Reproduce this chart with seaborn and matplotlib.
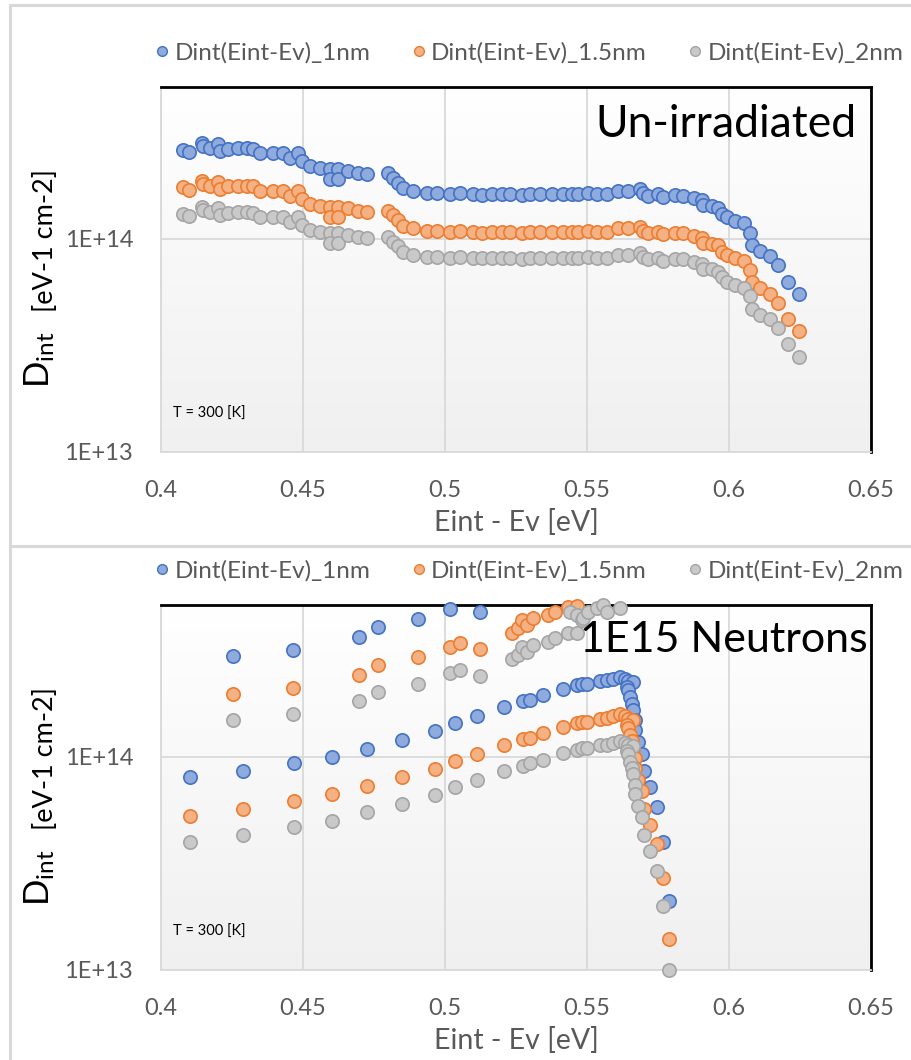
import numpy as np
import pandas as pd
import matplotlib
matplotlib.use("Agg")
import matplotlib.pyplot as plt
import seaborn as sns
from matplotlib.lines import Line2D
from matplotlib.colors import LinearSegmentedColormap

# ---------------- data ----------------
SERIES = ["Dint(Eint-Ev)_1nm", "Dint(Eint-Ev)_1.5nm", "Dint(Eint-Ev)_2nm"]
EDGE = ["#4472C4", "#ED7D31", "#A5A5A5"]
FILL = ["#8FAADC", "#F4B183", "#C9C9C9"]

X_TICKS = [0.4, 0.45, 0.5, 0.55, 0.6, 0.65]
X_TICK_LABELS = ["0.4", "0.45", "0.5", "0.55", "0.6", "0.65"]
Y_TICKS = [1e13, 1e14]
Y_TICK_LABELS = ["1E+13", "1E+14"]

# Top panel (Un-irradiated), values in units of 1E+14 eV-1 cm-2
top_x = [0.4077, 0.4100, 0.4144, 0.4148, 0.4173, 0.4200, 0.4208, 0.4236, 0.4271, 0.4303,
         0.4324, 0.4349, 0.4394, 0.4430, 0.4454, 0.4482, 0.4496, 0.4525, 0.4560, 0.4595,
         0.4623, 0.4595, 0.4623, 0.4658, 0.4694, 0.4725, 0.4799, 0.4817, 0.4835, 0.4852,
         0.4887, 0.4937, 0.4972, 0.5018, 0.5053, 0.5100, 0.5129, 0.5164, 0.5200, 0.5229,
         0.5270, 0.5299, 0.5335, 0.5376, 0.5417, 0.5446, 0.5469, 0.5504, 0.5534, 0.5569,
         0.5610, 0.5645, 0.5687, 0.5698, 0.5716, 0.5751, 0.5769, 0.5810, 0.5839, 0.5875,
         0.5904, 0.5910, 0.5939, 0.5963, 0.5974, 0.5992, 0.6021, 0.6053, 0.6074, 0.6080,
         0.6109, 0.6144, 0.6174, 0.6209, 0.6248]
top_1nm = [2.61, 2.55, 2.81, 2.72, 2.66, 2.78, 2.58, 2.64, 2.66, 2.66,
           2.64, 2.52, 2.52, 2.52, 2.39, 2.52, 2.31, 2.19, 2.15, 2.12,
           2.12, 1.91, 1.91, 2.08, 2.03, 2.01, 2.03, 1.93, 1.83, 1.73,
           1.68, 1.64, 1.64, 1.62, 1.64, 1.62, 1.61, 1.62, 1.62, 1.62,
           1.60, 1.62, 1.62, 1.62, 1.62, 1.62, 1.62, 1.64, 1.62, 1.62,
           1.68, 1.68, 1.71, 1.64, 1.59, 1.62, 1.57, 1.60, 1.59, 1.55,
           1.52, 1.44, 1.43, 1.39, 1.31, 1.26, 1.21, 1.18, 1.07, 0.94,
           0.88, 0.83, 0.75, 0.63, 0.55]
top_15nm = [1.74, 1.70, 1.87, 1.81, 1.77, 1.85, 1.72, 1.76, 1.77, 1.77,
            1.76, 1.68, 1.68, 1.68, 1.59, 1.68, 1.54, 1.46, 1.43, 1.41,
            1.41, 1.27, 1.27, 1.39, 1.35, 1.34, 1.35, 1.29, 1.22, 1.15,
            1.12, 1.09, 1.09, 1.08, 1.09, 1.08, 1.07, 1.08, 1.08, 1.08,
            1.07, 1.08, 1.08, 1.08, 1.08, 1.08, 1.08, 1.09, 1.08, 1.08,
            1.12, 1.12, 1.14, 1.09, 1.06, 1.08, 1.05, 1.07, 1.06, 1.03,
            1.01, 0.96, 0.95, 0.93, 0.87, 0.84, 0.81, 0.79, 0.71, 0.63,
            0.59, 0.55, 0.50, 0.42, 0.37]
top_2nm = [1.31, 1.28, 1.41, 1.36, 1.33, 1.39, 1.29, 1.32, 1.33, 1.33,
           1.32, 1.26, 1.26, 1.26, 1.20, 1.26, 1.16, 1.10, 1.08, 1.06,
           1.06, 0.96, 0.96, 1.04, 1.02, 1.01, 1.02, 0.97, 0.92, 0.87,
           0.84, 0.82, 0.82, 0.81, 0.82, 0.81, 0.81, 0.81, 0.81, 0.81,
           0.80, 0.81, 0.81, 0.81, 0.81, 0.81, 0.81, 0.82, 0.81, 0.81,
           0.84, 0.84, 0.86, 0.82, 0.80, 0.81, 0.79, 0.80, 0.80, 0.78,
           0.76, 0.72, 0.72, 0.70, 0.66, 0.63, 0.61, 0.59, 0.54, 0.47,
           0.44, 0.42, 0.38, 0.32, 0.28]

# Bottom panel (1E15 Neutrons) - lower branch (shared energies)
bot_x_low = [0.4102, 0.4290, 0.4468, 0.4601, 0.4724, 0.4848, 0.4965, 0.5035, 0.5112, 0.5206,
             0.5276, 0.5299, 0.5346, 0.5417, 0.5464, 0.5481, 0.5499, 0.5546, 0.5569, 0.5592,
             0.5616, 0.5634, 0.5645, 0.5663, 0.5640, 0.5645, 0.5651, 0.5657, 0.5663, 0.5669,
             0.5669, 0.5681, 0.5692, 0.5701, 0.5722, 0.5745, 0.5768, 0.5789]
bot_1nm_low = [0.80, 0.86, 0.93, 1.00, 1.09, 1.20, 1.32, 1.44, 1.55, 1.71,
               1.82, 1.85, 1.94, 2.07, 2.16, 2.19, 2.19, 2.26, 2.28, 2.32,
               2.37, 2.32, 2.26, 2.24, 2.12, 2.05, 1.90, 1.77, 1.65, 1.48,
               1.33, 1.17, 1.03, 0.86, 0.72, 0.58, 0.40, 0.21]
bot_15nm_low = [0.53, 0.57, 0.62, 0.67, 0.73, 0.80, 0.88, 0.96, 1.03, 1.14,
                1.21, 1.23, 1.29, 1.38, 1.44, 1.46, 1.46, 1.51, 1.52, 1.55,
                1.58, 1.55, 1.51, 1.49, 1.41, 1.37, 1.27, 1.18, 1.10, 0.99,
                0.89, 0.78, 0.69, 0.57, 0.48, 0.39, 0.27, 0.14]
bot_2nm_low = [0.40, 0.43, 0.47, 0.50, 0.55, 0.60, 0.66, 0.72, 0.78, 0.86,
               0.91, 0.93, 0.97, 1.04, 1.08, 1.10, 1.10, 1.13, 1.14, 1.16,
               1.19, 1.16, 1.13, 1.12, 1.06, 1.03, 0.95, 0.89, 0.83, 0.74,
               0.67, 0.59, 0.52, 0.43, 0.36, 0.29, 0.20, 0.10]
# Bottom panel - upper branch (visible points only)
bot_1nm_up_x = [0.4255, 0.4466, 0.4698, 0.4763, 0.4906, 0.5018, 0.5123]
bot_1nm_up = [2.96, 3.16, 3.63, 4.05, 4.41, 4.92, 4.80]
bot_15nm_up_x = [0.4255, 0.4466, 0.4698, 0.4763, 0.4906, 0.5018, 0.5053, 0.5123, 0.5235,
                 0.5258, 0.5270, 0.5287, 0.5311, 0.5364, 0.5387, 0.5434, 0.5464]
bot_15nm_up = [1.97, 2.11, 2.42, 2.70, 2.94, 3.28, 3.42, 3.20, 3.82,
               4.00, 4.38, 4.15, 4.47, 4.63, 4.80, 5.06, 5.10]
bot_2nm_up_x = [0.4255, 0.4466, 0.4698, 0.4763, 0.4906, 0.5018, 0.5053, 0.5123, 0.5235,
                0.5258, 0.5270, 0.5287, 0.5311, 0.5364, 0.5387, 0.5434, 0.5464, 0.5440,
                0.5464, 0.5481, 0.5487, 0.5504, 0.5534, 0.5558, 0.5569, 0.5616]
bot_2nm_up = [1.48, 1.58, 1.82, 2.02, 2.20, 2.46, 2.56, 2.40, 2.86,
              3.00, 3.28, 3.11, 3.35, 3.47, 3.60, 3.79, 3.82, 4.80,
              4.63, 4.38, 4.47, 4.80, 4.98, 5.15, 4.80, 4.98]

SCALE = 1e14


def frame(xs, ys, name):
    return pd.DataFrame({"E": xs, "D": np.array(ys) * SCALE, "series": name})


top_df = pd.concat([frame(top_x, top_1nm, SERIES[0]),
                    frame(top_x, top_15nm, SERIES[1]),
                    frame(top_x, top_2nm, SERIES[2])], ignore_index=True)
bot_df = pd.concat([frame(bot_x_low, bot_1nm_low, SERIES[0]),
                    frame(bot_1nm_up_x, bot_1nm_up, SERIES[0]),
                    frame(bot_x_low, bot_15nm_low, SERIES[1]),
                    frame(bot_15nm_up_x, bot_15nm_up, SERIES[1]),
                    frame(bot_x_low, bot_2nm_low, SERIES[2]),
                    frame(bot_2nm_up_x, bot_2nm_up, SERIES[2])], ignore_index=True)

# ---------------- style ----------------
sns.set_theme(style="white")
plt.rcParams["font.family"] = ["Lato", "DejaVu Sans"]
plt.rcParams["mathtext.fontset"] = "custom"
plt.rcParams["mathtext.rm"] = "Lato"
plt.rcParams["mathtext.it"] = "Lato"

W, H = 912, 1060
fig = plt.figure(figsize=(W / 100, H / 100), dpi=100)


def fx(px):
    return px / W


def fy(py):
    return 1 - py / H


GRAY_TXT = "#595959"
GRID = "#D9D9D9"
grad_cmap = LinearSegmentedColormap.from_list("g", ["#F0F0F0", "#FFFFFF"])


def make_panel(df, top_px, title, title_right_px, title_base_px, title_size):
    left, right, bottom_px = 161, 871, top_px + 365
    pos = [fx(left), fy(bottom_px), fx(right) - fx(left), (bottom_px - top_px) / H]
    bg = fig.add_axes(pos, zorder=0)
    bg.imshow(np.linspace(0, 1, 256)[:, None], cmap=grad_cmap, aspect="auto",
              extent=[0, 1, 0, 1], origin="lower")
    bg.axis("off")
    ax = fig.add_axes(pos, zorder=1)
    ax.set_facecolor("none")
    for i, s in enumerate(SERIES):
        sub = df[df["series"] == s]
        sns.scatterplot(data=sub, x="E", y="D", ax=ax, color=FILL[i], edgecolor=EDGE[i],
                        linewidth=1.2, s=92, legend=False, clip_on=False, zorder=3)
    ax.set_yscale("log")
    ax.set_xlim(0.4, 0.65)
    ax.set_ylim(1e13, 5.15e14)
    ax.set_xticks(X_TICKS)
    ax.set_xticklabels(X_TICK_LABELS)
    ax.set_yticks(Y_TICKS)
    ax.set_yticklabels(Y_TICK_LABELS)
    ax.yaxis.set_minor_locator(matplotlib.ticker.NullLocator())
    ax.tick_params(axis="both", length=0, colors=GRAY_TXT, labelsize=17)
    ax.tick_params(axis="x", pad=20)
    ax.tick_params(axis="y", pad=20)
    ax.grid(True, which="major", color=GRID, linewidth=1.3)
    ax.set_axisbelow(True)
    for side in ["left", "bottom"]:
        ax.spines[side].set_color(GRID)
        ax.spines[side].set_linewidth(1.3)
    for side in ["top", "right"]:
        ax.spines[side].set_color("black")
        ax.spines[side].set_linewidth(2.0)
    ax.set_xlabel("Eint - Ev [eV]", color=GRAY_TXT, fontsize=20.5, labelpad=6)
    ax.set_ylabel("")
    # titles and notes
    fig.text(fx(title_right_px), fy(title_base_px), title, ha="right", va="baseline",
             fontsize=title_size, color="black")
    fig.text(fx(173), fy(top_px + 331), "T = 300 [K]", ha="left", va="baseline",
             fontsize=10.5, color="black")
    # y label
    fig.text(fx(40), fy(top_px + 301), r"$\mathregular{D_{int}}$", rotation=90,
             ha="center", va="bottom", fontsize=25, color="black")
    fig.text(fx(46), fy(top_px + 225), "[eV-1 cm-2]", rotation=90,
             ha="center", va="bottom", fontsize=19.5, color="black")
    # legend
    handles = [Line2D([], [], ls="", marker="o", markersize=7, markerfacecolor=FILL[i],
                      markeredgecolor=EDGE[i], markeredgewidth=1.0) for i in range(3)]
    fig.legend(handles, SERIES, loc="center", ncol=3, frameon=False,
               bbox_to_anchor=(fx(528), fy(top_px - 34)), fontsize=17.5,
               labelcolor=GRAY_TXT, handletextpad=0.1, columnspacing=1.6,
               handlelength=0.8)
    return ax


make_panel(top_df, 87, "Un-irradiated", 857, 137, 32)
make_panel(bot_df, 605, "1E15 Neutrons", 868, 652, 31)

# Chart-area borders (Excel style)
for coords in [([fx(10), fx(10)], [fy(5), fy(1060)]),
               ([fx(10), fx(912)], [fy(5), fy(5)]),
               ([fx(10), fx(912)], [fy(546), fy(546)])]:
    fig.add_artist(Line2D(coords[0], coords[1], color="#D9D9D9", lw=2.2))

fig.savefig("out.png", dpi=100)
